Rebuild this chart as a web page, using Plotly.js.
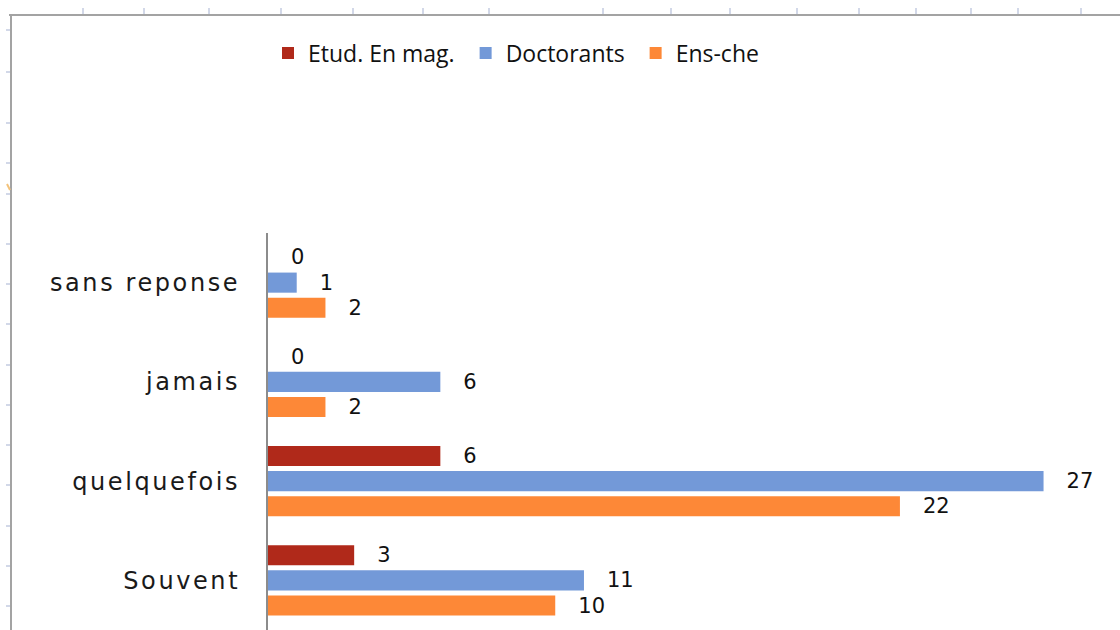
<!DOCTYPE html>
<html>
<head>
<meta charset="utf-8">
<script src="https://cdn.plot.ly/plotly-3.0.1.min.js"></script>
<style>
  html, body { margin: 0; padding: 0; background: #ffffff; }
  #chart { width: 1120px; height: 630px; }
  #chart .ytick text { letter-spacing: 2.6px; }
</style>
</head>
<body>
<div id="chart"></div>
<script>
// ---- data ----
const categories = ["sans reponse", "jamais", "quelquefois", "Souvent"];
const seriesNames = ["Etud. En mag.", "Doctorants", "Ens-che"];
const etudValues = [0, 0, 6, 3];
const doctorantsValues = [1, 6, 27, 11];
const enscheValues = [2, 2, 22, 10];

// ---- styles ----
const colors = ["#b0291a", "#7399d8", "#fd8837"];
const W = 1120, H = 630;
const M = { l: 268, r: 19, t: 233, b: 0 };
const plotW = W - M.l - M.r, plotH = H - M.t - M.b;
const px2x = (px) => (px - M.l) / plotW;
const py2y = (py) => (H - M.b - py) / plotH;

const valuesList = [etudValues, doctorantsValues, enscheValues];
const traces = valuesList.map((vals, i) => ({
  type: "bar",
  orientation: "h",
  name: seriesNames[i] + "\u00a0",
  y: categories,
  x: vals,
  marker: { color: colors[i] },
  text: vals.map(String),
  texttemplate: "\u00a0\u00a0\u00a0%{text}",
  textposition: "outside",
  constraintext: "none",
  cliponaxis: false,
  textfont: { family: "DejaVu Sans", size: 21, color: "#111111" },
  hoverinfo: "x+name"
}));

// spreadsheet frame decoration (ruler ticks + border)
const shapes = [];
const lineStyle = { color: "#a3a3a3", width: 2 };
shapes.push({ type: "line", xref: "paper", yref: "paper",
  x0: px2x(9), x1: px2x(1120), y0: py2y(15), y1: py2y(15), line: lineStyle });
shapes.push({ type: "line", xref: "paper", yref: "paper",
  x0: px2x(11), x1: px2x(11), y0: py2y(15), y1: py2y(630), line: lineStyle });
const topTicks = [83, 144, 209, 281, 353, 423, 489, 603, 671, 730, 797, 859, 916, 971, 1018, 1081];
topTicks.forEach(t => shapes.push({ type: "line", xref: "paper", yref: "paper",
  x0: px2x(t), x1: px2x(t), y0: py2y(8), y1: py2y(14), line: { color: "#c3cbe0", width: 1.5 } }));
const leftTicks = [30, 72, 123, 163, 194, 244, 284, 324, 365, 405, 445, 485, 526, 566, 606];
leftTicks.forEach(t => shapes.push({ type: "line", xref: "paper", yref: "paper",
  x0: px2x(6), x1: px2x(10), y0: py2y(t), y1: py2y(t), line: { color: "#c3cbe0", width: 1.5 } }));
shapes.push({ type: "line", xref: "paper", yref: "paper",
  x0: px2x(7), x1: px2x(10), y0: py2y(184), y1: py2y(190), line: { color: "#f3c27a", width: 2 } });

const layout = {
  width: W, height: H,
  margin: M,
  paper_bgcolor: "#ffffff",
  plot_bgcolor: "#ffffff",
  barmode: "group",
  bargap: 0.24,
  bargroupgap: 0.2,
  showlegend: true,
  legend: {
    orientation: "h",
    xref: "container", yref: "container",
    x: 268 / W, xanchor: "left",
    y: 1 - 53 / H, yanchor: "middle",
    font: { family: "Open Sans", size: 23, color: "#111111" },
    traceorder: "normal",
    bgcolor: "rgba(0,0,0,0)"
  },
  xaxis: {
    range: [0, 29],
    showgrid: false, zeroline: false, showticklabels: false, ticks: "",
    showline: false, fixedrange: true
  },
  yaxis: {
    type: "category",
    categoryorder: "array",
    categoryarray: categories,
    range: [3.5, -0.5],
    showgrid: false, zeroline: false,
    showline: true, linecolor: "#8c8c8c", linewidth: 2,
    ticks: "",
    ticklabelstandoff: 21,
    tickfont: { family: "DejaVu Sans", size: 24, color: "#1a1a1a" },
    fixedrange: true
  },
  shapes: shapes
};

Plotly.newPlot("chart", traces, layout, { displayModeBar: false, staticPlot: true });
</script>
</body>
</html>
